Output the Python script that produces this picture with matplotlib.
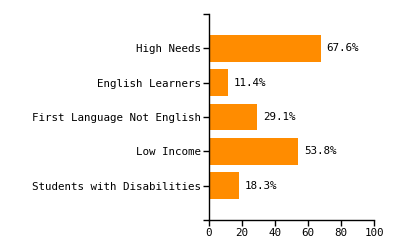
import matplotlib.pyplot as plt
from matplotlib.ticker import FixedLocator

categories = ["High Needs", "English Learners", "First Language Not English",
              "Low Income", "Students with Disabilities"]
values = [67.6, 11.4, 29.1, 53.8, 18.3]
bar_color = "#ff8c00"
fs = 7.8

plt.rcParams['font.family'] = 'DejaVu Sans Mono'

fig = plt.figure(figsize=(4, 2.5), dpi=100)
ax = fig.add_axes([209 / 400, 1 - 220 / 250, 165 / 400, 206 / 250])

pos = list(range(len(categories)))
ax.barh(pos, values, height=0.78, color=bar_color)
for p, v in zip(pos, values):
    ax.text(v + 3.6, p, "%.1f%%" % v, va="center", ha="left", fontsize=fs, color="black")

ax.set_ylim(len(categories), -1)
ax.set_xlim(0, 100)
ax.set_yticks(pos)
ax.set_yticklabels(categories, fontsize=fs)
ax.yaxis.set_minor_locator(FixedLocator([-1, len(categories)]))
ax.set_xticks([0, 20, 40, 60, 80, 100])
ax.tick_params(axis="x", labelsize=fs, length=4, width=1, pad=1.5)
ax.tick_params(axis="y", which="both", length=4, width=1, pad=2)
ax.spines["top"].set_visible(False)
ax.spines["right"].set_visible(False)
ax.spines["left"].set_linewidth(1)
ax.spines["bottom"].set_linewidth(1)

fig.savefig("out.png", dpi=100)
